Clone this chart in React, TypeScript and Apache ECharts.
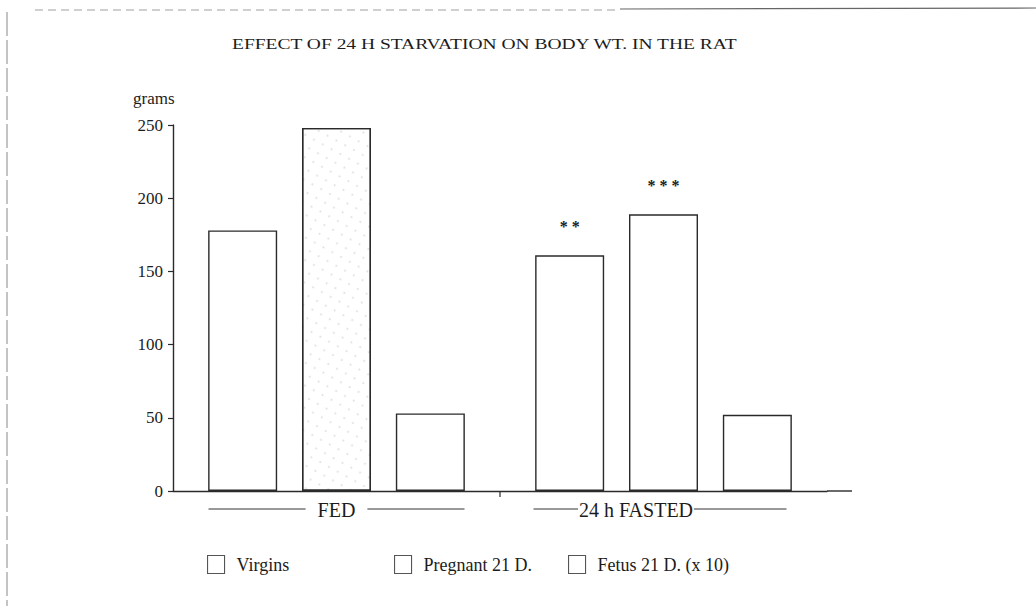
import React, { useEffect, useRef } from "react";
import * as echarts from "echarts";

const TITLE = "EFFECT OF 24 H STARVATION ON BODY WT. IN THE RAT";
const Y_NAME = "grams";
const CATEGORIES = ["FED", "24 h FASTED"];
const SERIES_NAMES = ["Virgins", "Pregnant 21 D.", "Fetus 21 D. (x 10)"];
const VIRGINS = [178, 161];
const PREGNANT = [248, 189];
const FETUS = [53, 52];
const SIGNIFICANCE_VIRGINS = ["", "* *"];
const SIGNIFICANCE_PREGNANT = ["", "* * *"];
const SIGNIFICANCE_FETUS = ["", ""];
const Y_MIN = 0;
const Y_MAX = 250;
const Y_STEP = 50;

const FONT = "'Liberation Serif', 'Times New Roman', serif";
const INK = "#1c1c1c";
const CAT_FONT_SIZE = 20;
const FASTED_SHIFT = 55; // right padding => label drawn left of band centre

function measure(text: string, size: number): number {
  const c = document.createElement("canvas").getContext("2d");
  if (!c) return text.length * size * 0.55;
  c.font = `${size}px 'Liberation Serif'`;
  return c.measureText(text).width;
}

export default function App() {
  const ref = useRef<HTMLDivElement>(null);

  useEffect(() => {
    document.body.style.margin = "0";
    if (!ref.current) return;
    const chart = echarts.init(ref.current, undefined, { renderer: "svg" });

    const values = [VIRGINS, PREGNANT, FETUS];
    const marks = [SIGNIFICANCE_VIRGINS, SIGNIFICANCE_PREGNANT, SIGNIFICANCE_FETUS];

    const stipple = {
      symbol: "circle",
      symbolSize: 0.45,
      dashArrayX: [5, 5],
      dashArrayY: [4, 6],
      rotation: 0.5,
      color: "rgba(0,0,0,0.14)",
      backgroundColor: "#ffffff",
    };

    const series = SERIES_NAMES.map((name, si) => ({
      name,
      type: "bar",
      barWidth: 69,
      barGap: "36%",
      data: values[si].map((v, di) =>
        si === 1 && di === 0 ? { value: v, itemStyle: { decal: stipple } } : v
      ),
      itemStyle: {
        color: "#ffffff",
        borderColor: "#2a2a2a",
        borderWidth: 1.4,
      },
      label: {
        show: true,
        position: "top",
        distance: 21,
        fontFamily: FONT,
        fontSize: 16,
        fontWeight: "bold",
        color: INK,
        formatter: (p: any) => marks[si][p.dataIndex] || "",
      },
    }));

    const legendPos = [207, 394, 568];
    const AX = "#2a2a2a";

    chart.setOption({
      animation: false,
      backgroundColor: "#ffffff",
      legend: SERIES_NAMES.map((name, i) => ({
        data: [name],
        left: legendPos[i],
        top: 555,
        padding: 0,
        itemWidth: 17,
        itemHeight: 18,
        icon: "rect",
        itemStyle: { color: "#ffffff", borderColor: "#555555", borderWidth: 1.1, decal: "none" },
        textStyle: {
          fontFamily: FONT,
          fontSize: 18,
          color: INK,
          padding: [0, 0, 0, 7],
        },
        selectedMode: false,
      })),
      grid: { left: 173, right: 209, top: 125, bottom: 115, containLabel: false },
      xAxis: {
        type: "category",
        data: CATEGORIES,
        axisLine: { lineStyle: { color: AX, width: 1.4 } },
        axisTick: { show: false },
        axisLabel: {
          fontFamily: FONT,
          fontSize: CAT_FONT_SIZE,
          color: INK,
          margin: 9,
          formatter: (v: string) => (v === CATEGORIES[1] ? "{b|" + v + "}" : "{a|" + v + "}"),
          rich: {
            a: { fontFamily: FONT, fontSize: CAT_FONT_SIZE, color: INK },
            b: { fontFamily: FONT, fontSize: CAT_FONT_SIZE, color: INK, padding: [0, FASTED_SHIFT, 0, 0] },
          },
        },
      },
      yAxis: {
        type: "value",
        min: Y_MIN,
        max: Y_MAX,
        interval: Y_STEP,
        name: Y_NAME,
        nameLocation: "end",
        nameGap: 18,
        nameTextStyle: {
          fontFamily: FONT,
          fontSize: 17,
          color: INK,
          align: "left",
          padding: [0, 0, 0, -40],
        },
        axisLine: { show: true, lineStyle: { color: AX, width: 1.4 } },
        axisTick: { show: true, inside: false, length: 5, lineStyle: { color: AX, width: 1.2 } },
        axisLabel: { fontFamily: FONT, fontSize: 17, color: INK, margin: 10 },
        splitLine: { show: false },
      },
      series,
    });

    // decorations positioned from the axis scale
    const c0 = chart.convertToPixel({ xAxisIndex: 0 }, CATEGORIES[0]) as number;
    const c1 = chart.convertToPixel({ xAxisIndex: 0 }, CATEGORIES[1]) as number;
    const band = c1 - c0;
    const y0 = chart.convertToPixel({ yAxisIndex: 0 }, 0) as number;
    const axisEnd = c1 + band / 2;
    const mid = (c0 + c1) / 2;
    const w0 = measure(CATEGORIES[0], CAT_FONT_SIZE);
    const w1 = measure(CATEGORIES[1], CAT_FONT_SIZE);
    const t1 = c1 - FASTED_SHIFT / 2;
    const ly = y0 + 18;
    const dec = { stroke: "#333", lineWidth: 1 };

    chart.setOption({
      graphic: [
        {
          type: "text",
          x: 232,
          y: 44,
          scaleX: 1.3,
          scaleY: 1,
          style: {
            text: TITLE,
            fontFamily: FONT,
            fontSize: 15,
            fill: INK,
            verticalAlign: "middle",
            align: "left",
          },
        },
        { type: "line", shape: { x1: axisEnd, y1: y0, x2: axisEnd + 25, y2: y0 }, style: { stroke: AX, lineWidth: 1.4 } },
        { type: "line", shape: { x1: mid, y1: y0, x2: mid, y2: y0 + 6 }, style: { stroke: AX, lineWidth: 1.2 } },
        { type: "line", shape: { x1: c0 - 128, y1: ly, x2: c0 - w0 / 2 - 12, y2: ly }, style: dec },
        { type: "line", shape: { x1: c0 + w0 / 2 + 12, y1: ly, x2: c0 + 128, y2: ly }, style: dec },
        { type: "line", shape: { x1: c1 - 130, y1: ly, x2: t1 - w1 / 2 - 1, y2: ly }, style: dec },
        { type: "line", shape: { x1: t1 + w1 / 2 + 1, y1: ly, x2: c1 + 123, y2: ly }, style: dec },
        { type: "line", shape: { x1: 35, y1: 10, x2: 620, y2: 10 }, style: { stroke: "#a0a0a0", lineWidth: 1, lineDash: [8, 5] } },
        { type: "line", shape: { x1: 620, y1: 9, x2: 1036, y2: 8 }, style: { stroke: "#666", lineWidth: 1.2 } },
        { type: "line", shape: { x1: 7, y1: 12, x2: 7, y2: 606 }, style: { stroke: "#888", lineWidth: 1, lineDash: [24, 4] } },
      ],
    });

    return () => chart.dispose();
  }, []);

  return <div ref={ref} style={{ width: 1036, height: 606 }} />;
}
